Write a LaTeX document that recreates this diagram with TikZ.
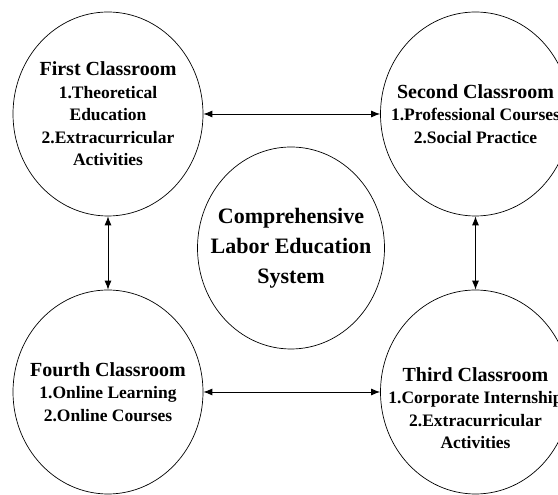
\documentclass[tikz,border=0pt]{standalone}
\usepackage{fontspec}
\setmainfont{Liberation Serif}
\usetikzlibrary{arrows.meta,shapes.geometric}

\newcommand{\roomtitle}[1]{{\fontsize{20}{23}\selectfont #1}}

\begin{document}
\begin{tikzpicture}[x=1pt,y=1pt,
   classroom/.style={draw, ellipse, line width=0.7pt, minimum width=190pt, minimum height=204pt, inner sep=0pt},
   core/.style={classroom, minimum width=187pt, minimum height=202pt},
   roomtext/.style={align=center, inner sep=0pt, font=\bfseries\fontsize{17.5}{22.5}\selectfont},
   coretext/.style={align=center, inner sep=0pt, font=\bfseries\fontsize{22}{30}\selectfont},
   link/.style={{Latex[length=9pt,width=7pt]}-{Latex[length=9pt,width=7pt]}, line width=0.9pt}]
   \useasboundingbox (0,0) rectangle (558,495);

   % the four classrooms around the system
   \node[classroom] (first) at (108,381) {};
   \node[classroom] (second) at (475.5,381) {};
   \node[classroom] (third) at (475.5,103) {};
   \node[classroom] (fourth) at (108,103) {};
   \node[core] (system) at (291,247) {};

   \node[roomtext] (first-text) at (first) {\roomtitle{First Classroom}\\1.Theoretical\\Education\\2.Extracurricular\\Activities};
   \node[roomtext] (second-text) at (second) {\roomtitle{Second Classroom}\\1.Professional Courses\\2.Social Practice};
   \node[roomtext] (third-text) at ([yshift=-16pt]third.center) {\roomtitle{Third Classroom}\\1.Corporate Internship\\2.Extracurricular\\Activities};
   \node[roomtext] (fourth-text) at (fourth) {\roomtitle{Fourth Classroom}\\1.Online Learning\\2.Online Courses};
   \node[coretext] (system-text) at (system) {Comprehensive\\Labor Education\\System};

   %%%%%%%%%%
   \draw[link] (first) -- (second);
   \draw[link] (second) -- (third);
   \draw[link] (third) -- (fourth);
   \draw[link] (fourth) -- (first);
\end{tikzpicture}
\end{document}
